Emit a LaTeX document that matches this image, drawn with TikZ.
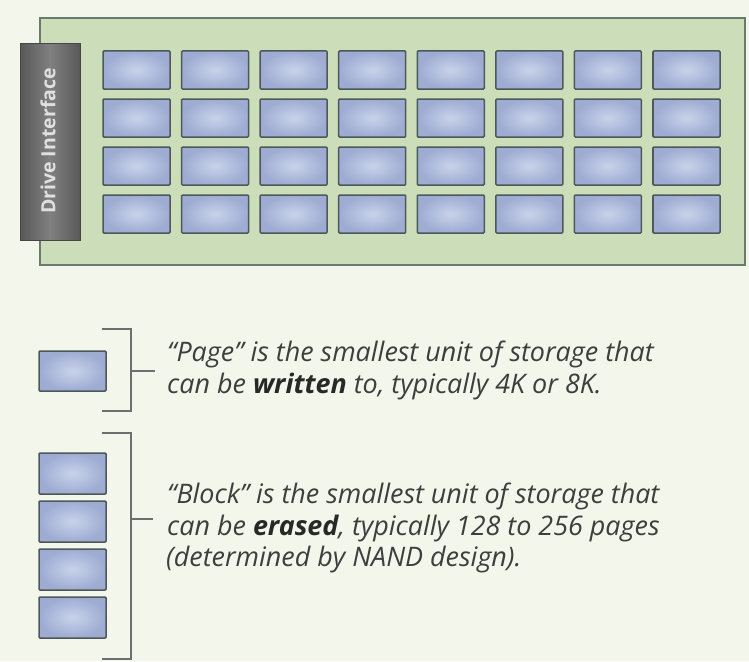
\documentclass[tikz,border=0pt]{standalone}
\usepackage{fontspec}
\newfontfamily\capfont{Open Sans}
\newfontfamily\labfont{Open Sans}
\definecolor{paper}{RGB}{243,246,234}
\definecolor{boardfill}{RGB}{204,221,186}
\definecolor{boardline}{RGB}{108,122,108}
\definecolor{cellout}{RGB}{158,171,210}
\definecolor{cellin}{RGB}{200,211,234}
\definecolor{cellline}{RGB}{78,88,88}
\definecolor{ifdark}{RGB}{88,88,88}
\definecolor{iflight}{RGB}{128,128,128}
\definecolor{bracketgray}{RGB}{110,110,110}
\definecolor{textgray}{RGB}{62,62,62}
\definecolor{textdark}{RGB}{40,40,40}
\tikzset{
  cell/.style={draw=cellline, line width=1.5pt, rounded corners=1pt,
    shading=radial, inner color=cellin, outer color=cellout,
    minimum width=67pt, minimum height=38pt, inner sep=0pt},
  board/.style={draw=boardline, line width=1.4pt, fill=boardfill},
  iface/.style={draw=ifdark!80!black, line width=1pt,
    left color=ifdark, right color=ifdark, middle color=iflight,
    minimum width=60pt, minimum height=196pt, inner sep=0pt},
  bracket/.style={draw=bracketgray, line width=1.5pt},
  caption/.style={anchor=base west, inner sep=0pt, text=textgray,
    font=\capfont\itshape\fontsize{26.9}{30}\selectfont},
}
\newcommand{\keyword}[1]{{\bfseries\color{textdark}#1}}
\begin{document}
\begin{tikzpicture}[x=1pt,y=-1pt]
  % canvas
  \path[use as bounding box, fill=paper] (0,0) rectangle (749,661);

  % drive board
  \path[board] (40,18) rectangle (745,265);

  % drive interface strip
  \node[iface] (iface) at (50,142) {};
  \node[rotate=90, text=white!88!black,
        font=\labfont\bfseries\fontsize{19.5}{22}\selectfont] (ifacelabel)
        at (48,141) {Drive Interface};

  % 4 x 8 grid of pages
  \foreach \r in {1,...,4}{
    \foreach \c in {1,...,8}{
      \node[cell] (p-\r-\c) at ({136.5+78.57*(\c-1)}, {70+48*(\r-1)}) {};
    }
  }

  % legend: a single page
  \node[cell, minimum height=40pt] (lpage) at (72.5,371) {};
  \coordinate (pb-top) at (102,329);
  \coordinate (pb-bot) at (102,411);
  \coordinate (pb-mid) at (131,371);
  \coordinate (pb-end) at (155,371);
  \draw[bracket] (pb-top) -- (131,329) -- (131,411) -- (pb-bot);
  \draw[bracket] (pb-mid) -- (pb-end);
  \node[caption] (pg1) at (167,361) {“Page” is the smallest unit of storage that};
  \node[caption] (pg2) at (167,393) {can be \keyword{written} to, typically 4K or 8K.};

  % legend: a block of pages
  \foreach \k in {1,...,4}{
    \node[cell, minimum height=41pt] (lblock-\k) at (72.5,{473.5+48*(\k-1)}) {};
  }
  \coordinate (bb-top) at (102,433);
  \coordinate (bb-bot) at (102,659);
  \coordinate (bb-mid) at (131,519);
  \coordinate (bb-end) at (153,519);
  \draw[bracket] (bb-top) -- (131,433) -- (131,659) -- (bb-bot);
  \draw[bracket] (bb-mid) -- (bb-end);
  \node[caption] (bl1) at (167,503) {“Block” is the smallest unit of storage that};
  \node[caption] (bl2) at (167,535) {can be \keyword{erased}, typically 128 to 256 pages};
  \node[caption] (bl3) at (166,566) {(determined by NAND design).};
\end{tikzpicture}
\end{document}
